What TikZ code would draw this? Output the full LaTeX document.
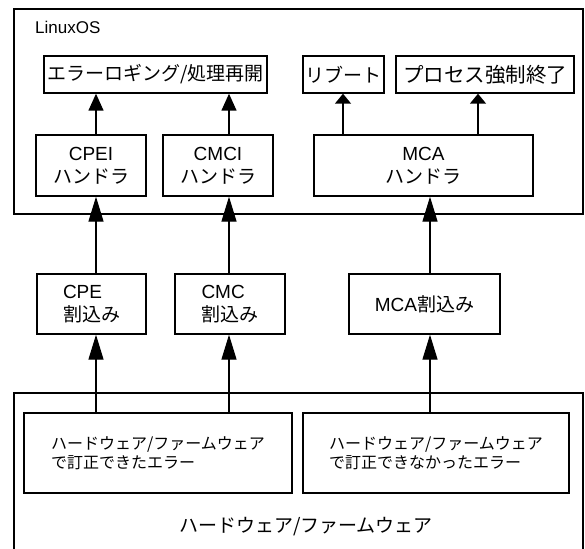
\documentclass[tikz,border=0pt]{standalone}
\usepackage{fontspec}
\setmainfont{Liberation Sans}
\newfontfamily\jpfont{Noto Sans CJK JP}
\usetikzlibrary{arrows.meta}
\begin{document}
\begin{tikzpicture}[x=1bp,y=-1bp,
  box/.style={draw,line width=1.4bp,inner sep=0pt,rectangle},
  conn/.style={line width=1.4bp},
  bighead/.style={conn,-{Triangle[length=25bp,width=15bp]}},
  midhead/.style={conn,-{Triangle[length=17bp,width=15bp]}},
  smallhead/.style={conn,-{Triangle[length=10bp,width=16bp]}},
  big/.style={font=\fontsize{19bp}{23bp}\selectfont},
  small/.style={font=\fontsize{16bp}{19bp}\selectfont},
]
\useasboundingbox (0,0) rectangle (585,549);

% --- operating system layer ---
\node[box, minimum width=569bp, minimum height=205bp] (linux) at (298.5,111.5) {};
\node[anchor=base west, inner sep=0pt, font=\fontsize{17bp}{17bp}\selectfont] (linuxlabel) at (35,34) {LinuxOS};

\node[box, big, minimum width=223bp, minimum height=37bp] (log) at (155.5,74.5) {\jpfont エラーロギング/処理再開};
\node[box, big, minimum width=81bp, minimum height=37bp] (reboot) at (343.5,74.5) {\jpfont リブート};
\node[box, minimum width=178bp, minimum height=37bp, font=\fontsize{20.5bp}{23bp}\selectfont] (kill) at (485,74.5) {\jpfont プロセス強制終了};

\node[box, big, align=center, minimum width=110bp, minimum height=61bp] (cpei) at (91,165.5) {CPEI\\{\jpfont ハンドラ}};
\node[box, big, align=center, minimum width=110bp, minimum height=61bp] (cmci) at (218,165.5) {CMCI\\{\jpfont ハンドラ}};
\node[box, big, align=center, minimum width=219bp, minimum height=61bp] (mcah) at (423.5,165.5) {MCA\\{\jpfont ハンドラ}};

% --- interrupts ---
\node[box, big, align=left, minimum width=109bp, minimum height=60bp] (cpe) at (91.5,304) {CPE\\{\jpfont 割込み}};
\node[box, big, align=left, minimum width=110bp, minimum height=60bp] (cmc) at (230,304) {CMC\\{\jpfont 割込み}};
\node[box, big, minimum width=151bp, minimum height=60bp] (mcai) at (424.5,304) {MCA{\jpfont 割込み}};

% --- hardware / firmware layer (open at the bottom) ---
\coordinate (hwbl) at (14,560);
\coordinate (hwtl) at (14,393);
\coordinate (hwtr) at (583,393);
\coordinate (hwbr) at (583,560);
\draw[line width=1.4bp] (hwbl) -- (hwtl) -- (hwtr) -- (hwbr);
\node[inner sep=0pt, font=\jpfont\fontsize{19bp}{19bp}\selectfont] (hwlabel) at (306,527) {ハードウェア/ファームウェア};

\node[box, small, align=left, minimum width=268bp, minimum height=80bp] (hwok) at (158,453) {\jpfont ハードウェア/ファームウェア\\\jpfont で訂正できたエラー};
\node[box, small, align=left, minimum width=266bp, minimum height=80bp] (hwng) at (436,453) {\jpfont ハードウェア/ファームウェア\\\jpfont で訂正できなかったエラー};

% --- connectors ---
\draw[bighead] (hwok.north -| 96,0) -- (cpe.south -| 96,0);
\draw[bighead] (hwok.north -| 229,0) -- (cmc.south -| 229,0);
\draw[bighead] (hwng.north -| 430,0) -- (mcai.south -| 430,0);

\draw[bighead] (cpe.north -| 96,0) -- (cpei.south -| 96,0);
\draw[bighead] (cmc.north -| 229,0) -- (cmci.south -| 229,0);
\draw[bighead] (mcai.north -| 430,0) -- (mcah.south -| 430,0);

\draw[midhead] (cpei.north -| 96,0) -- (log.south -| 96,0);
\draw[midhead] (cmci.north -| 229,0) -- (log.south -| 229,0);
\draw[smallhead] (mcah.north -| 343,0) -- (reboot.south -| 343,0);
\draw[smallhead] (mcah.north -| 478,0) -- (kill.south -| 478,0);
\end{tikzpicture}
\end{document}
